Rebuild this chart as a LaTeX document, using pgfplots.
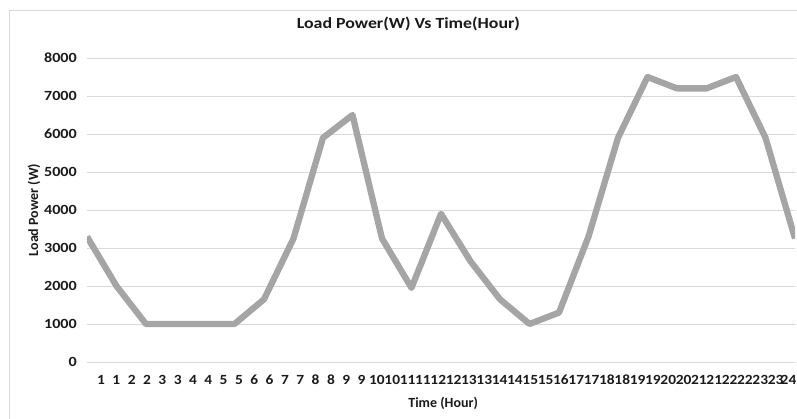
\documentclass[border=0pt]{standalone}
\usepackage{fontspec}
\setmainfont{Carlito}
\usepackage{graphicx}
\usepackage{pgfplots}
\pgfplotsset{compat=1.18}
\definecolor{linegray}{HTML}{A5A5A5}
\definecolor{gridgray}{HTML}{D9D9D9}
\definecolor{txt}{HTML}{1A1A1A}
\newcommand\sx[1]{\scalebox{1.15}[1]{#1}}
\newcommand\sxx[1]{\scalebox{1.1}[1]{#1}}
\begin{document}
\begin{tikzpicture}[x=1pt,y=1pt]
\useasboundingbox (-87,-57) rectangle (710,362);
\draw[gridgray, line width=0.9pt] (-77.5,-57) -- (-77.5,352) -- (710,352);
\begin{axis}[
  at={(0,0)}, anchor=south west,
  scale only axis, width=708pt, height=304pt,
  xmin=0, xmax=24, ymin=0, ymax=8000,
  axis line style={draw=none},
  major tick length=0pt,
  ytick={0,1000,2000,3000,4000,5000,6000,7000,8000},
  scaled y ticks=false,
  yticklabel={\sx{\pgfmathprintnumber[assume math mode=true,1000 sep={}]{\tick}}},
  ymajorgrids, grid style={gridgray, line width=0.9pt},
  xtick={0.4746,0.9943,1.5140,2.0337,2.5534,3.0731,3.5928,4.1125,4.6322,5.1519,5.6716,6.1913,6.7110,7.2307,7.7504,8.2701,8.7898,9.3095,9.8292,10.3489,10.8686,11.3883,11.9080,12.4277,12.9474,13.4671,13.9868,14.5065,15.0262,15.5459,16.0656,16.5853,17.1050,17.6247,18.1444,18.6641,19.1838,19.7035,20.2232,20.7429,21.2626,21.7823,22.3020,22.8217,23.3414,23.78},
  xticklabels={\sxx{1},\sxx{1},\sxx{2},\sxx{2},\sxx{3},\sxx{3},\sxx{4},\sxx{4},\sxx{5},\sxx{5},\sxx{6},\sxx{6},\sxx{7},\sxx{7},\sxx{8},\sxx{8},\sxx{9},\sxx{9},\sxx{10},\sxx{10},\sxx{11},\sxx{11},\sxx{12},\sxx{12},\sxx{13},\sxx{13},\sxx{14},\sxx{14},\sxx{15},\sxx{15},\sxx{16},\sxx{17},\sxx{17},\sxx{18},\sxx{18},\sxx{19},\sxx{19},\sxx{20},\sxx{20},\sxx{21},\sxx{21},\sxx{22},\sxx{22},\sxx{23},\sxx{23},\sxx{24}},
  xmajorgrids=false,
  ticklabel style={font=\fontsize{14}{16}\selectfont\bfseries, text=txt, inner sep=0pt},
  xticklabel style={anchor=north, yshift=-13pt},
  yticklabel style={anchor=east, xshift=-10pt},
  title={\sx{Load Power(W) Vs Time(Hour)}},
  title style={at={(0.454,1.092)}, anchor=center, font=\fontsize{15.5}{18}\selectfont\bfseries, text=txt, inner sep=0pt},
  xlabel={Time (Hour)},
  xlabel style={at={(0.503,-0.135)}, anchor=center, font=\fontsize{14}{16}\selectfont\bfseries, text=txt, inner sep=0pt},
  ylabel={Load Power (W)},
  ylabel style={at={(-0.075,0.5)}, anchor=center, font=\fontsize{14}{16}\selectfont\bfseries, text=txt, inner sep=0pt},
]
\addplot[color=linegray, line width=6.3pt, line join=round, mark=none] coordinates {
(0,3300) (1,2000) (2,1000) (3,1000) (4,1000) (5,1000) (6,1650) (7,3250) (8,5900) (9,6500)
(10,3250) (11,1950) (12,3900) (13,2650) (14,1650) (15,1000) (16,1300) (17,3300) (18,5900)
(19,7500) (20,7200) (21,7200) (22,7500) (23,5900) (24,3250)
};
\end{axis}
\end{tikzpicture}
\end{document}
